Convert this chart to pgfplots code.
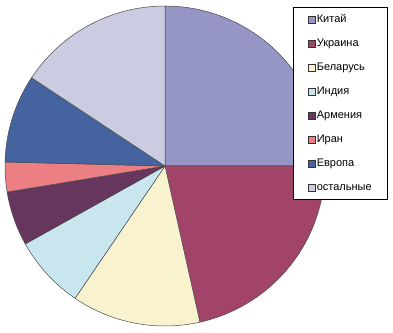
\documentclass[border=0pt]{standalone}
\usepackage{pgfplots}
\usepackage{pgfplotstable}
\pgfplotsset{compat=1.18}
\usepackage{fontspec}
\setmainfont{Liberation Sans}
\definecolor{cKit}{HTML}{9595C6}
\definecolor{cUkr}{HTML}{A24469}
\definecolor{cBel}{HTML}{F8F3CE}
\definecolor{cInd}{HTML}{C9E6EE}
\definecolor{cArm}{HTML}{66365F}
\definecolor{cIra}{HTML}{EC7F84}
\definecolor{cEvr}{HTML}{45639F}
\definecolor{cOst}{HTML}{CBCBE2}
\definecolor{edge}{HTML}{4A4A4A}
\pgfplotstableread{
idx v
0 25.0
1 21.5
2 13.0
3 7.4
4 5.5
5 3.0
6 8.9
7 15.7
}\piedata
\gdef\cum{0}
\newcommand\slice[3]{%
  \pgfplotstablegetelem{#1}{v}\of\piedata
  \pgfmathsetmacro\sa{90-3.6*\cum}%
  \pgfmathsetmacro\newcum{\cum+\pgfplotsretval}%
  \global\let\cum\newcum
  \pgfmathsetmacro\ea{90-3.6*\cum}%
  \edef\temp{\noexpand\addplot[fill=#2, draw=edge, line width=0.5pt, domain=\ea:\sa, samples=90] ({cos(x)},{sin(x)}) -- (axis cs:0,0) -- cycle;}%
  \temp
  \addlegendentry{#3}%
}
\begin{document}
\begin{tikzpicture}
\begin{axis}[
  scale only axis,
  width=393bp, height=333bp,
  xmin=-1.03125, xmax=1.425,
  ymin=-1.04375, ymax=1.0375,
  hide axis, clip=false,
  legend cell align=left,
  legend image code/.code={\draw[#1, draw=black!80, line width=0.6pt] (0bp,-3.3bp) rectangle (6.8bp,3.3bp);},
  legend style={at={(293/393,1-7/333)}, anchor=north west,
    draw=black, line width=0.8pt, fill=white,
    font=\fontsize{11bp}{13bp}\selectfont,
    row sep=12.2bp, inner xsep=15bp, inner ysep=6.3bp,
    nodes={inner xsep=1bp, inner ysep=1bp, text height=7.8bp, text depth=2bp},
    /tikz/every odd column/.append style={column sep=0bp}},
]
\path (rel axis cs:0,0) rectangle (rel axis cs:1,1);
\slice{0}{cKit}{Китай}
\slice{1}{cUkr}{Украина}
\slice{2}{cBel}{Беларусь}
\slice{3}{cInd}{Индия}
\slice{4}{cArm}{Армения}
\slice{5}{cIra}{Иран}
\slice{6}{cEvr}{Европа}
\slice{7}{cOst}{остальные}
\end{axis}
\end{tikzpicture}
\end{document}
